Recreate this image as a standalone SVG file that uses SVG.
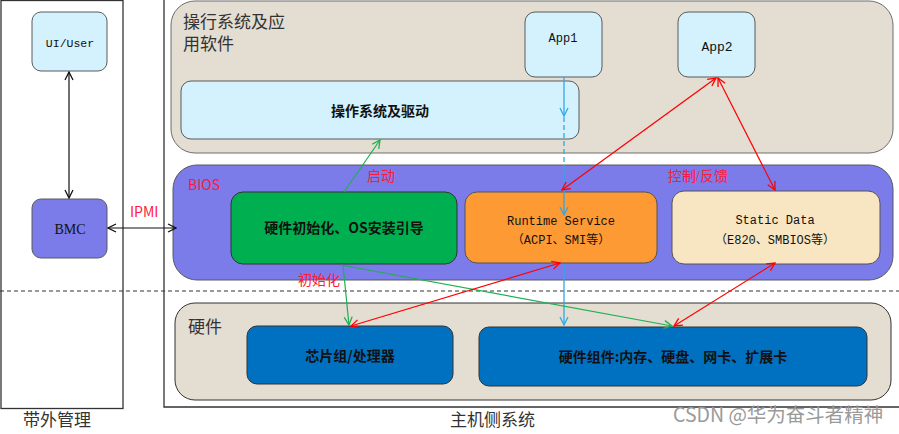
<svg xmlns="http://www.w3.org/2000/svg" width="899" height="434" viewBox="0 0 899 434">
  <style>
    .panel { fill: #e3ddd2; stroke: #6f6f6f; stroke-width: 1; }
    .lb { fill: #d3f2fd; stroke: #5a5a5a; stroke-width: 1; }
    .bios { fill: #7b7be9; stroke: #5a5a5a; stroke-width: 1; }
    .green { fill: #00b050; stroke: #333; stroke-width: 1; }
    .orange { fill: #fd9a33; stroke: #555; stroke-width: 1; }
    .cream { fill: #f8e5c2; stroke: #555; stroke-width: 1; }
    .hw { fill: #0070c0; stroke: #333; stroke-width: 1; }
    .frame { fill: none; stroke: #333; stroke-width: 1.3; }
    .title { font-family: "Liberation Serif", "Noto Sans CJK SC", serif; font-size: 17px; fill: #333; }
    .mono { font-family: "Liberation Mono", "Noto Sans CJK SC", monospace; font-size: 12px; fill: #111; text-anchor: middle; }
    .bold { font-family: "Noto Sans CJK SC", sans-serif; font-size: 14px; font-weight: bold; fill: #111; text-anchor: middle; }
    .red { font-family: "Noto Sans CJK SC", sans-serif; font-size: 14px; fill: #ff1a3a; }
    .c-black { stroke: #111; stroke-width: 1.2; fill: none; }
    .c-red { stroke: #ff0000; stroke-width: 1.2; fill: none; }
    .c-green { stroke: #1fb050; stroke-width: 1.2; fill: none; }
    .c-blue { stroke: #2fa8e8; stroke-width: 1.3; fill: none; }
  </style>
  <defs>
    <marker id="ah-black" viewBox="0 0 10 10" refX="9" refY="5" markerWidth="10" markerHeight="10" markerUnits="userSpaceOnUse" orient="auto-start-reverse">
      <path d="M1,1 L9,5 L1,9" fill="none" stroke="#111" stroke-width="1.3"/>
    </marker>
    <marker id="ah-red" viewBox="0 0 10 10" refX="9" refY="5" markerWidth="10" markerHeight="10" markerUnits="userSpaceOnUse" orient="auto-start-reverse">
      <path d="M1,1 L9,5 L1,9" fill="none" stroke="#ff0000" stroke-width="1.3"/>
    </marker>
    <marker id="ah-green" viewBox="0 0 10 10" refX="9" refY="5" markerWidth="10" markerHeight="10" markerUnits="userSpaceOnUse" orient="auto-start-reverse">
      <path d="M1,1 L9,5 L1,9" fill="none" stroke="#1fb050" stroke-width="1.3"/>
    </marker>
    <marker id="ah-blue" viewBox="0 0 10 10" refX="9" refY="5" markerWidth="10" markerHeight="10" markerUnits="userSpaceOnUse" orient="auto-start-reverse">
      <path d="M1,1 L9,5 L1,9" fill="none" stroke="#2fa8e8" stroke-width="1.3"/>
    </marker>
  </defs>

  <rect width="899" height="434" fill="#ffffff"/>

  <!-- outer frames -->
  <g id="oob-frame">
    <rect class="frame" x="1" y="0.5" width="122" height="408"/>
    <text class="title" x="23" y="426">带外管理</text>
  </g>
  <g id="host-frame">
    <path class="frame" d="M164,0 L164,407 L899,407"/>
    <text class="title" x="450" y="426">主机侧系统</text>
  </g>

  <!-- in-band / out-of-band separator -->
  <line x1="0" y1="291" x2="899" y2="291" stroke="#333" stroke-width="1" stroke-dasharray="4,3"/>

  <!-- OS and applications layer -->
  <g id="os-layer">
    <rect class="panel" x="171" y="1" width="722" height="152" rx="24"/>
    <text class="title" x="183" y="28">操行系统及应</text>
    <text class="title" x="183" y="50">用软件</text>
  </g>
  <g id="app1">
    <rect class="lb" x="525" y="12" width="77" height="65" rx="10"/>
    <text class="mono" x="563" y="42">App1</text>
  </g>
  <g id="app2">
    <rect class="lb" x="678" y="12" width="77" height="65" rx="10"/>
    <text class="mono" x="717" y="51" style="font-size:13px">App2</text>
  </g>
  <g id="os-driver">
    <rect class="lb" x="181" y="81" width="398" height="58" rx="10"/>
    <text class="bold" x="380" y="116">操作系统及驱动</text>
  </g>

  <!-- BIOS layer -->
  <g id="bios-layer">
    <rect class="bios" x="173" y="165" width="720" height="115" rx="24"/>
    <text class="red" x="188" y="190">BIOS</text>
  </g>
  <g id="hw-init">
    <rect class="green" x="231" y="192" width="226" height="72" rx="12"/>
    <text class="bold" x="344" y="233">硬件初始化、OS安装引导</text>
  </g>
  <g id="runtime-service">
    <rect class="orange" x="465" y="192" width="192" height="71" rx="12"/>
    <text class="mono" x="561" y="225">Runtime Service</text>
    <text class="mono" x="561" y="244">（ACPI、SMI等）</text>
  </g>
  <g id="static-data">
    <rect class="cream" x="672" y="191" width="208" height="73" rx="12"/>
    <text class="mono" x="775" y="224">Static Data</text>
    <text class="mono" x="775" y="244">（E820、SMBIOS等）</text>
  </g>

  <!-- hardware layer -->
  <g id="hw-layer">
    <rect class="panel" x="175" y="303" width="716" height="97" rx="20" style="stroke:#333"/>
    <text class="title" x="188" y="333">硬件</text>
  </g>
  <g id="chipset">
    <rect class="hw" x="247" y="326" width="206" height="58" rx="10"/>
    <text class="bold" x="350" y="361">芯片组/处理器</text>
  </g>
  <g id="hw-components">
    <rect class="hw" x="479" y="327" width="388" height="59" rx="10"/>
    <text class="bold" x="673" y="362">硬件组件:内存、硬盘、网卡、扩展卡</text>
  </g>

  <!-- out-of-band nodes -->
  <g id="ui-user">
    <rect class="lb" x="32" y="12" width="75" height="59" rx="9"/>
    <text class="mono" x="70" y="47" style="font-size:11.5px">UI/User</text>
  </g>
  <g id="bmc">
    <rect class="bios" x="32" y="199" width="75" height="59" rx="9"/>
    <text x="70" y="234" text-anchor="middle" font-family="Liberation Serif, serif" font-size="14" fill="#111">BMC</text>
  </g>

  <!-- connectors -->
  <g id="connectors">
    <line class="c-black" x1="69" y1="72" x2="69" y2="198" marker-start="url(#ah-black)" marker-end="url(#ah-black)"/>
    <line class="c-black" x1="108" y1="228" x2="176" y2="228" marker-start="url(#ah-black)" marker-end="url(#ah-black)"/>

    <line class="c-blue" x1="564" y1="77" x2="564" y2="116" marker-end="url(#ah-blue)"/>
    <line class="c-blue" x1="564" y1="117" x2="564" y2="165" stroke-dasharray="5,3"/>
    <line class="c-blue" x1="564" y1="165" x2="564" y2="215" marker-end="url(#ah-blue)"/>
    <line class="c-blue" x1="564" y1="264" x2="564" y2="325" marker-end="url(#ah-blue)"/>

    <line class="c-green" x1="344" y1="192" x2="380" y2="140" marker-end="url(#ah-green)"/>
    <line class="c-green" x1="343" y1="265" x2="349" y2="325" marker-end="url(#ah-green)"/>
    <line class="c-green" x1="341" y1="265" x2="672" y2="326" marker-end="url(#ah-green)"/>

    <line class="c-red" x1="716" y1="78" x2="562" y2="190" marker-start="url(#ah-red)" marker-end="url(#ah-red)"/>
    <line class="c-red" x1="718" y1="78" x2="775" y2="190" marker-start="url(#ah-red)" marker-end="url(#ah-red)"/>
    <line class="c-red" x1="560" y1="263" x2="351" y2="326" marker-start="url(#ah-red)" marker-end="url(#ah-red)"/>
    <line class="c-red" x1="775" y1="263" x2="674" y2="326" marker-start="url(#ah-red)" marker-end="url(#ah-red)"/>
  </g>

  <!-- connector labels -->
  <text class="red" x="130" y="217">IPMI</text>
  <text class="red" x="367" y="181" style="font-family:'Liberation Serif','Noto Sans CJK SC',serif">启动</text>
  <text class="red" x="668" y="181" style="font-family:'Liberation Serif','Noto Sans CJK SC',serif">控制/反馈</text>
  <text class="red" x="298" y="285" style="font-family:'Liberation Serif','Noto Sans CJK SC',serif">初始化</text>

  <!-- watermark -->
  <text x="673" y="422" font-family="Noto Sans CJK SC, sans-serif" font-size="19.5" fill="#9a9a9a">CSDN @华为奋斗者精神</text>
</svg>
